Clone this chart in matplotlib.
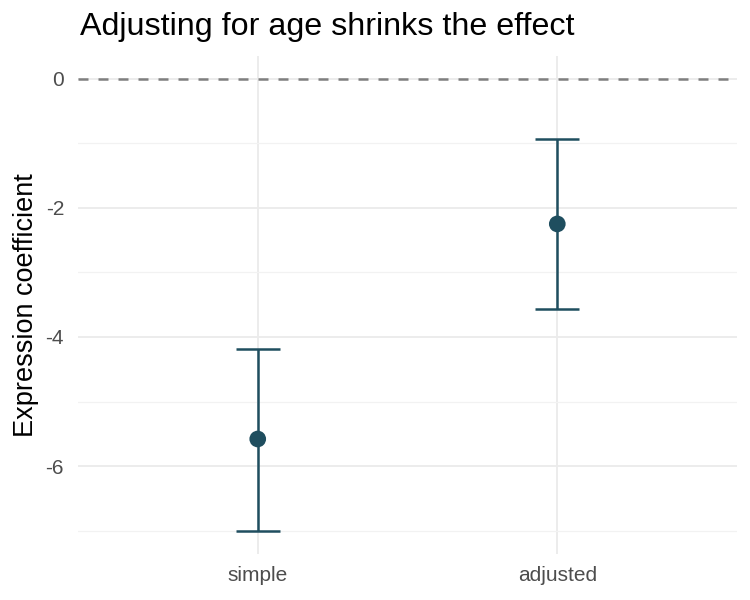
import matplotlib
matplotlib.use("Agg")
import matplotlib.pyplot as plt
from matplotlib.ticker import MultipleLocator

plt.rcParams['font.family'] = ['Liberation Sans', 'DejaVu Sans']

models = ["simple", "adjusted"]
estimate = [-5.58, -2.25]
lower = [-7.01, -3.57]
upper = [-4.19, -0.93]
yticks = [0, -2, -4, -6]
ytick_labels = ["0", "-2", "-4", "-6"]
color = "#1f4e5f"

fig = plt.figure(figsize=(7.5, 6), dpi=100)
ax = fig.add_axes([0.104, 0.0767, 0.8787, 0.83])

x = list(range(1, len(models) + 1))
yerr = [[e - l for e, l in zip(estimate, lower)], [u - e for u, e in zip(upper, estimate)]]
ax.axhline(0, color="#7f7f7f", linestyle=(0, (4, 4)), linewidth=1.8, zorder=2)
ax.errorbar(x, estimate, yerr=yerr, fmt="none", ecolor=color, elinewidth=1.8,
            capsize=16, capthick=1.8, zorder=3)
ax.scatter(x, estimate, s=144, color=color, zorder=4, edgecolors="none")

ax.set_xlim(0.4, 2.6)
lo = min(lower); hi = max(0, max(upper))
pad = (hi - lo) * 0.05
ax.set_ylim(lo - pad, hi + pad)
ax.set_xticks(x)
ax.set_xticklabels(models)
ax.set_yticks(yticks)
ax.set_yticklabels(ytick_labels)
ax.yaxis.set_minor_locator(MultipleLocator(1))

for s in ax.spines.values():
    s.set_visible(False)
ax.grid(True, which="major", color="#ebebeb", linewidth=1.3, zorder=0)
ax.grid(True, which="minor", axis="y", color="#f2f2f2", linewidth=0.9, zorder=0)
ax.set_axisbelow(True)
ax.tick_params(which="both", length=0)
ax.tick_params(axis="both", labelsize=15, labelcolor="#4d4d4d")
ax.tick_params(axis="y", pad=10)
ax.tick_params(axis="x", pad=9)

ax.set_ylabel("Expression coefficient", fontsize=19.5, color="black", labelpad=5)
fig.text(0.1067, 0.942, "Adjusting for age shrinks the effect", fontsize=23.2, color="black",
         ha="left", va="baseline")

fig.savefig("out.png", dpi=100)
